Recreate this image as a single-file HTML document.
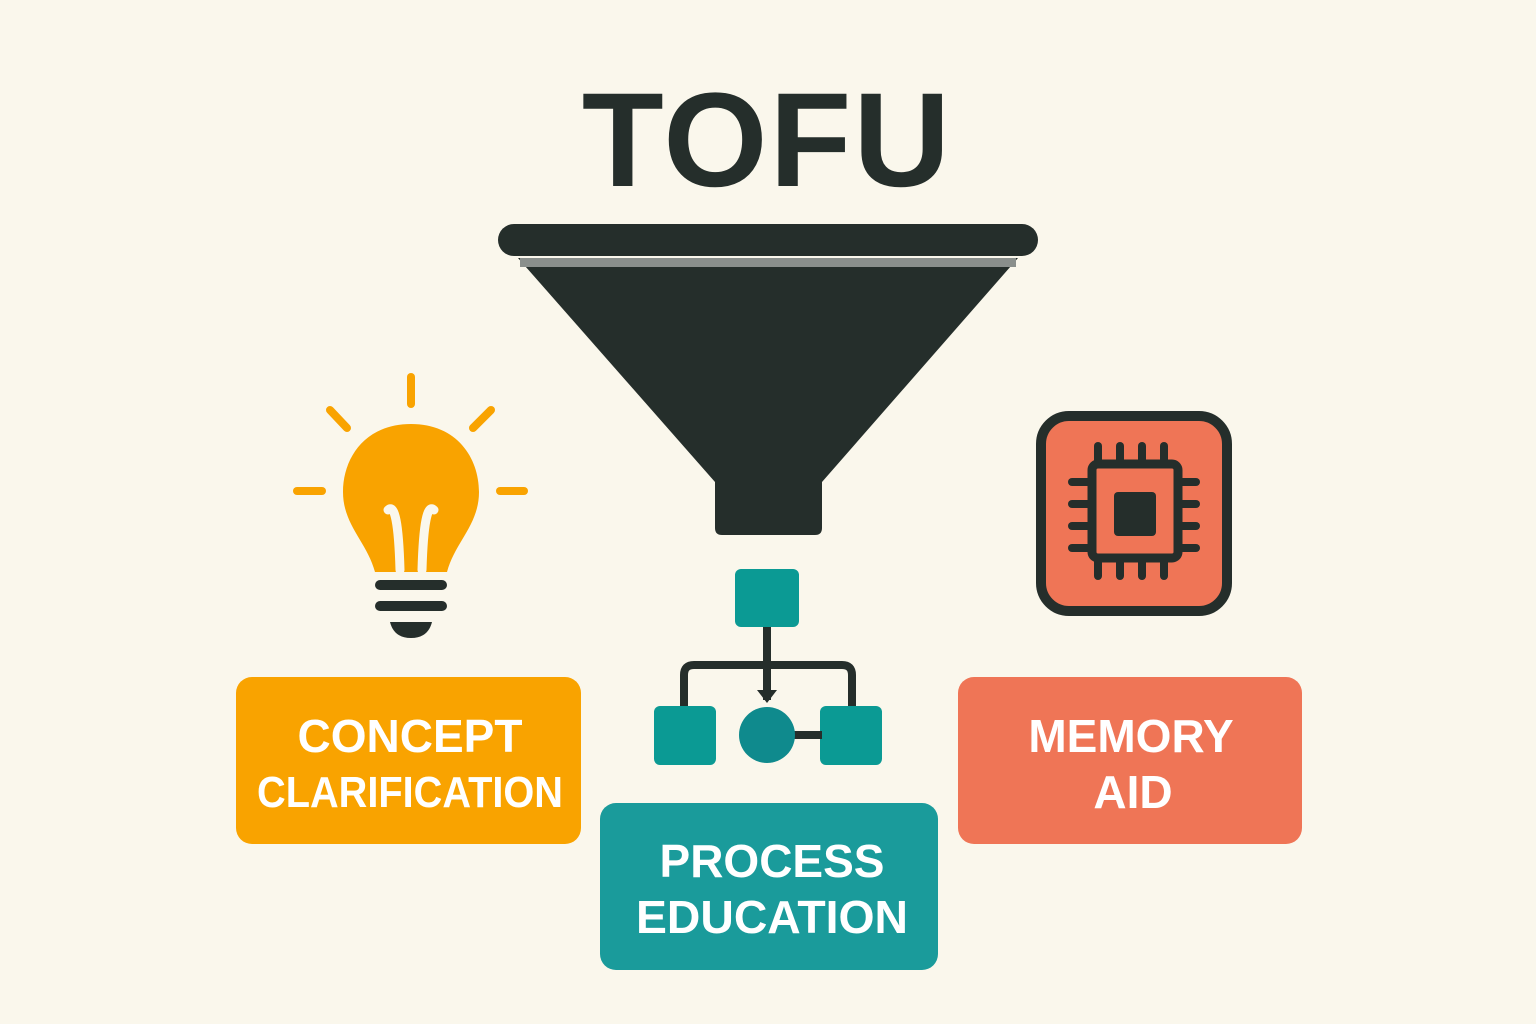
<!DOCTYPE html>
<html><head><meta charset="utf-8"><style>
html,body{margin:0;padding:0;background:#faf7ec;}
svg{display:block}
text{font-family:"Liberation Sans",sans-serif;font-weight:bold;}
</style></head><body>
<svg width="1536" height="1024" viewBox="0 0 1536 1024">
<rect width="1536" height="1024" fill="#faf7ec"/>
<text x="767" y="186" text-anchor="middle" font-size="134" fill="#252e2b" letter-spacing="2">TOFU</text>
<!-- funnel -->
<rect x="498" y="224" width="540" height="32" rx="16" fill="#252e2b"/>
<path d="M518 258 L1018 258 L822 482 L715 482 Z" fill="#252e2b"/>
<rect x="520" y="258" width="496" height="9" fill="#8a8f8c"/>
<path d="M715 470 L822 470 L822 528 Q822 535 815 535 L722 535 Q715 535 715 528 Z" fill="#252e2b"/>
<!-- bulb -->
<g stroke="#f9a300" stroke-width="8" stroke-linecap="round">
<line x1="411" y1="377" x2="411" y2="404"/>
<line x1="330" y1="410" x2="347" y2="428"/>
<line x1="491" y1="410" x2="473" y2="428"/>
<line x1="297" y1="491" x2="322" y2="491"/>
<line x1="500" y1="491" x2="524" y2="491"/>
</g>
<path d="M411 424 C365 424 343 458 343 492 C343 525 367 542 375 572 L447 572 C455 542 479 525 479 492 C479 458 457 424 411 424 Z" fill="#f9a300"/>
<path d="M388 510 Q398 500 400 570 M434 510 Q424 500 422 570" stroke="#faf7ec" stroke-width="9" fill="none" stroke-linecap="round"/>
<g stroke="#252e2b" stroke-width="10" stroke-linecap="round">
<line x1="380" y1="585" x2="442" y2="585"/>
<line x1="380" y1="606" x2="442" y2="606"/>
</g>
<path d="M390 622 L432 622 Q428 638 411 638 Q394 638 390 622 Z" fill="#252e2b"/>
<!-- chip -->
<rect x="1041" y="416" width="186" height="195" rx="28" fill="#ef7556" stroke="#252e2b" stroke-width="10"/>
<g stroke="#252e2b" stroke-width="8" stroke-linecap="round">
<line x1="1098" y1="446" x2="1098" y2="462"/><line x1="1120" y1="446" x2="1120" y2="462"/><line x1="1142" y1="446" x2="1142" y2="462"/><line x1="1164" y1="446" x2="1164" y2="462"/>
<line x1="1098" y1="558" x2="1098" y2="576"/><line x1="1120" y1="558" x2="1120" y2="576"/><line x1="1142" y1="558" x2="1142" y2="576"/><line x1="1164" y1="558" x2="1164" y2="576"/>
<line x1="1072" y1="482" x2="1090" y2="482"/><line x1="1072" y1="504" x2="1090" y2="504"/><line x1="1072" y1="526" x2="1090" y2="526"/><line x1="1072" y1="548" x2="1090" y2="548"/>
<line x1="1178" y1="482" x2="1196" y2="482"/><line x1="1178" y1="504" x2="1196" y2="504"/><line x1="1178" y1="526" x2="1196" y2="526"/><line x1="1178" y1="548" x2="1196" y2="548"/>
</g>
<rect x="1092" y="464" width="86" height="94" rx="6" fill="#ef7556" stroke="#252e2b" stroke-width="9"/>
<rect x="1114" y="492" width="42" height="44" rx="4" fill="#252e2b"/>
<!-- hierarchy -->
<path d="M767 627 L767 700 M684 706 L684 675 Q684 665 694 665 L842 665 Q852 665 852 675 L852 706" stroke="#252e2b" stroke-width="8" fill="none"/>
<path d="M757 690 L777 690 L767 703 Z" fill="#252e2b"/>
<rect x="735" y="569" width="64" height="58" rx="6" fill="#0b9a94"/>
<rect x="654" y="706" width="62" height="59" rx="6" fill="#0b9a94"/>
<rect x="820" y="706" width="62" height="59" rx="6" fill="#0b9a94"/>
<line x1="790" y1="735" x2="822" y2="735" stroke="#252e2b" stroke-width="8"/>
<circle cx="767" cy="735" r="28" fill="#0f8a8d"/>
<!-- boxes -->
<rect x="236" y="677" width="345" height="167" rx="16" fill="#f9a300"/>
<text x="410" y="752" text-anchor="middle" font-size="46" fill="#fff">CONCEPT</text>
<text x="410" y="807" text-anchor="middle" font-size="44" fill="#fff" font-weight="normal" textLength="306" lengthAdjust="spacingAndGlyphs">CLARIFICATION</text>
<rect x="958" y="677" width="344" height="167" rx="16" fill="#ef7556"/>
<text x="1131" y="752" text-anchor="middle" font-size="46" fill="#fff">MEMORY</text>
<text x="1133" y="808" text-anchor="middle" font-size="46" fill="#fff">AID</text>
<rect x="600" y="803" width="338" height="167" rx="16" fill="#1a9b9b"/>
<text x="772" y="877" text-anchor="middle" font-size="46" fill="#fff">PROCESS</text>
<text x="772" y="933" text-anchor="middle" font-size="46" fill="#fff" textLength="272" lengthAdjust="spacingAndGlyphs">EDUCATION</text>
</svg>
</body></html>
